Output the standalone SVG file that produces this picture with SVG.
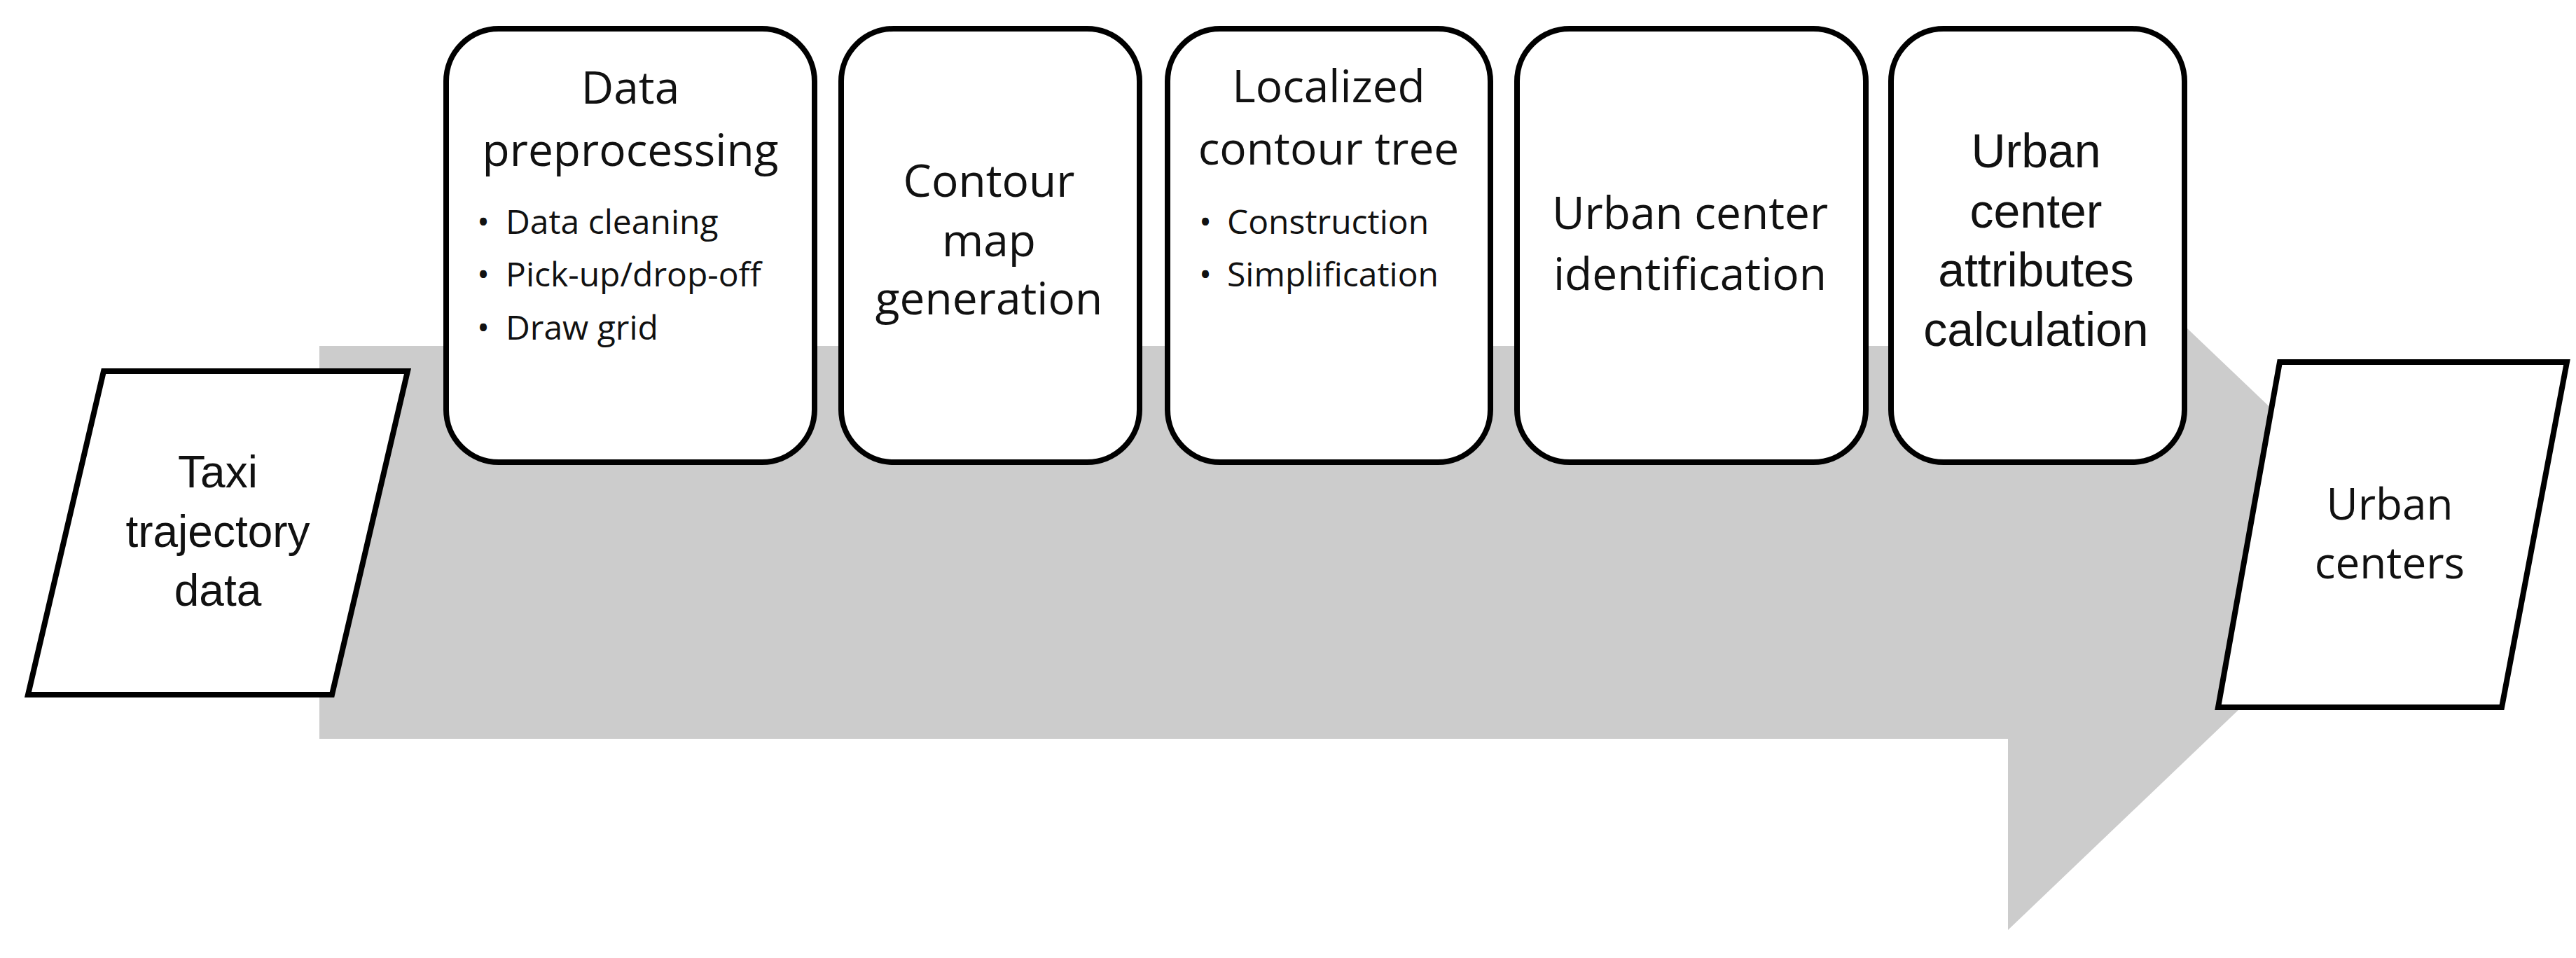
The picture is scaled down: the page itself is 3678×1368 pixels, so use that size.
<svg xmlns="http://www.w3.org/2000/svg" width="3678" height="1368" viewBox="0 0 3678 1368">
<style>
.box{fill:#ffffff;stroke:#000000;stroke-width:8}
.para{fill:#ffffff;stroke:#000000;stroke-width:8;stroke-linejoin:miter}
.t{font-family:"Open Sans","Liberation Sans",sans-serif;font-size:64px;fill:#111111;text-anchor:middle}
.n{font-family:"Liberation Sans",Arial,sans-serif;font-size:68px;fill:#111111;text-anchor:middle}
.b{font-family:"Open Sans","Liberation Sans",sans-serif;font-size:48px;fill:#111111}
</style>
<rect x="0" y="0" width="3678" height="1368" fill="#ffffff"/>
<g id="connectors">
<polygon id="flow-arrow" points="456,494 2867,494 2867,225 3445,776 2867,1328 2867,1055 456,1055" fill="#cccccc"/>
</g>
<g id="taxi-trajectory-data">
<polygon class="para" points="148,530 582,530 474,992 40,992"/>
<text class="n" style="font-size:64px" x="311" y="696">Taxi</text>
<text class="n" style="font-size:64px" x="311" y="781">trajectory</text>
<text class="n" style="font-size:64px" x="311" y="865">data</text>
</g>
<g id="data-preprocessing">
<rect class="box" x="637" y="41" width="526" height="619" rx="75" ry="75"/>
<text class="t" x="900" y="148">Data</text>
<text class="t" x="900" y="237">preprocessing</text>
<text class="b" x="681" y="334">•</text><text class="b" x="722" y="334">Data cleaning</text>
<text class="b" x="681" y="409">•</text><text class="b" x="722" y="409">Pick-up/drop-off</text>
<text class="b" x="681" y="485">•</text><text class="b" x="722" y="485">Draw grid</text>
</g>
<g id="contour-map-generation">
<rect class="box" x="1201" y="41" width="426" height="619" rx="75" ry="75"/>
<text class="t" x="1412" y="281">Contour</text>
<text class="t" x="1412" y="366">map</text>
<text class="t" x="1412" y="449">generation</text>
</g>
<g id="localized-contour-tree">
<rect class="box" x="1667" y="41" width="461" height="619" rx="75" ry="75"/>
<text class="t" x="1897" y="146">Localized</text>
<text class="t" x="1897" y="235">contour tree</text>
<text class="b" x="1712" y="334">•</text><text class="b" x="1752" y="334">Construction</text>
<text class="b" x="1712" y="409">•</text><text class="b" x="1752" y="409">Simplification</text>
</g>
<g id="urban-center-identification">
<rect class="box" x="2166" y="41" width="498" height="619" rx="75" ry="75"/>
<text class="t" x="2413" y="327">Urban center</text>
<text class="t" x="2413" y="414">identification</text>
</g>
<g id="urban-center-attributes-calculation">
<rect class="box" x="2700" y="41" width="419" height="619" rx="75" ry="75"/>
<text class="n" x="2907" y="239">Urban</text>
<text class="n" x="2907" y="325">center</text>
<text class="n" x="2907" y="409">attributes</text>
<text class="n" x="2907" y="494">calculation</text>
</g>
<g id="urban-centers">
<polygon class="para" points="3255,517 3665,517 3572,1010 3167,1010"/>
<text class="t" style="font-size:62px" x="3412" y="742">Urban</text>
<text class="t" style="font-size:62px" x="3412" y="826">centers</text>
</g>
</svg>
